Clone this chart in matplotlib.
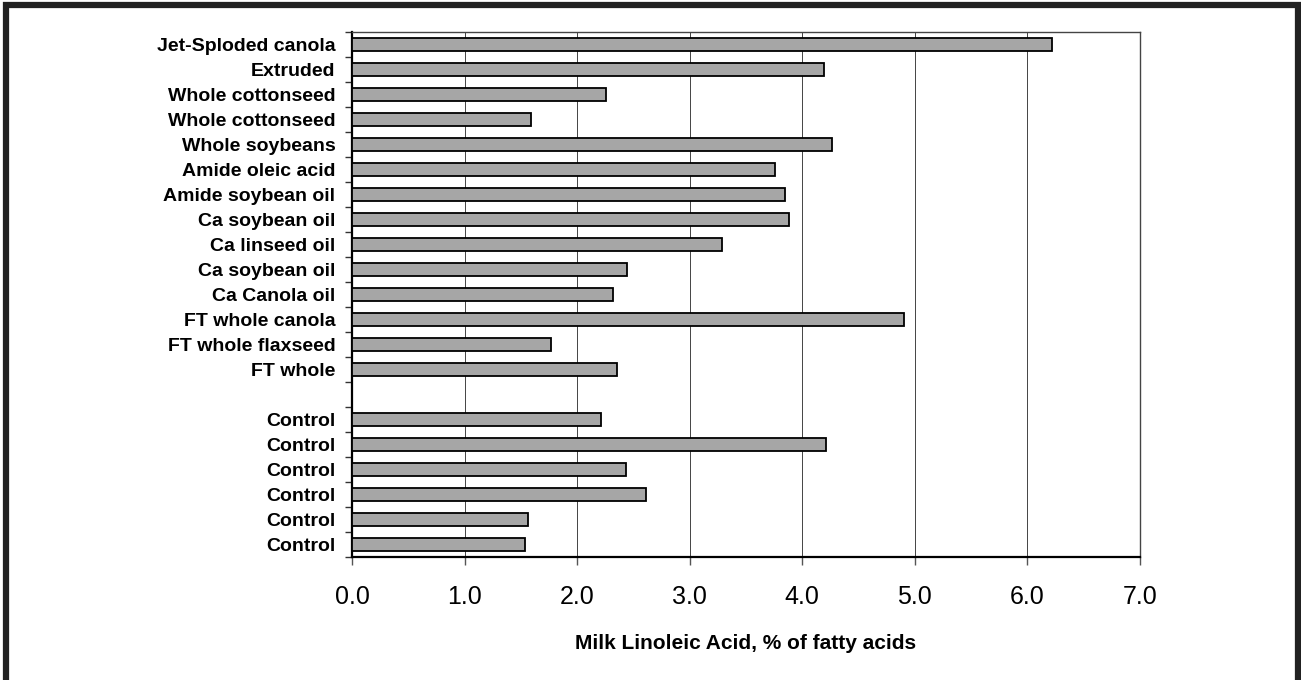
#!/usr/bin/env python3

# imports
import matplotlib
matplotlib.use('Agg')
import matplotlib.pyplot as plt
from matplotlib.lines import Line2D

# data, top to bottom as in the figure (blank row separates the controls)
labels = ['Jet-Sploded canola', 'Extruded', 'Whole cottonseed', 'Whole cottonseed',
          'Whole soybeans', 'Amide oleic acid', 'Amide soybean oil', 'Ca soybean oil',
          'Ca linseed oil', 'Ca soybean oil', 'Ca Canola oil', 'FT whole canola',
          'FT whole flaxseed', 'FT whole', '',
          'Control', 'Control', 'Control', 'Control', 'Control', 'Control']
values = [6.22, 4.19, 2.26, 1.59, 4.26, 3.76, 3.85, 3.88, 3.29, 2.44, 2.32, 4.90,
          1.77, 2.35, None, 2.21, 4.21, 2.43, 2.61, 1.56, 1.54]
x_ticks = [0, 1, 2, 3, 4, 5, 6, 7]
x_label = 'Milk Linoleic Acid, % of fatty acids'

plt.rcParams['font.family'] = ['Liberation Sans', 'DejaVu Sans']

W, H = 1301, 680
fig = plt.figure(figsize=(W / 100, H / 100), dpi=100)
ax = fig.add_axes([352 / W, 1 - 557 / H, (1140 - 352) / W, (557 - 32) / H])

# bars (skip the empty row)
ypos = [i for i, v in enumerate(values) if v is not None]
vals = [v for v in values if v is not None]
ax.barh(ypos, vals, height=0.5, color='#a6a6a6', edgecolor='black', linewidth=1.3, zorder=3)

ax.set_ylim(len(labels) - 0.5, -0.5)
ax.set_xlim(0, 7)

# y axis: labels at centres, tick marks at the boundaries
ax.set_yticks(range(len(labels)))
ax.set_yticklabels(labels, fontsize=14, fontweight='bold')
ax.set_yticks([i + 0.5 for i in range(-1, len(labels))], minor=True)
ax.tick_params(axis='y', which='major', length=0, pad=12)
ax.tick_params(axis='y', which='minor', length=5, width=1, direction='out', color='#333333')

# x axis
ax.set_xticks(x_ticks)
ax.set_xticklabels(['%.1f' % t for t in x_ticks], fontsize=18)
ax.tick_params(axis='x', length=6, width=1, direction='out', pad=14, color='#555555')
ax.set_xlabel(x_label, fontsize=15, fontweight='bold', labelpad=18)

ax.grid(axis='x', color='#444444', linewidth=0.7, zorder=0)
ax.set_axisbelow(True)
for side in ['left', 'bottom']:
    ax.spines[side].set_linewidth(1.6)
    ax.spines[side].set_color('black')
for side in ['top', 'right']:
    ax.spines[side].set_linewidth(1.0)
    ax.spines[side].set_color('#444444')

# outer frame (open at the bottom)
fig.add_artist(Line2D([6 / W, 6 / W, 1298 / W, 1298 / W],
                      [0, 1 - 4.5 / H, 1 - 4.5 / H, 0],
                      transform=fig.transFigure, color='#222222', linewidth=4.5,
                      solid_joinstyle='miter'))

plt.savefig('out.png', dpi=100)
